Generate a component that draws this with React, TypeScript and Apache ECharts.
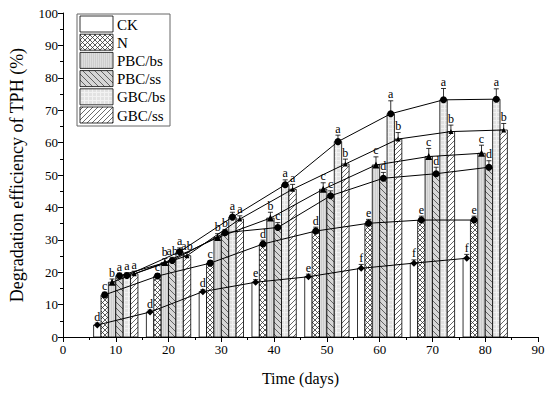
import React, { useEffect, useRef } from 'react';
import * as echarts from 'echarts';

const days = [10, 20, 30, 40, 50, 60, 70, 80];
const seriesNames = ['CK', 'N', 'PBC/bs', 'PBC/ss', 'GBC/bs', 'GBC/ss'];

const ckValues = [3.7, 7.7, 14.0, 16.9, 18.6, 21.2, 22.8, 24.3];
const nValues = [13.0, 18.8, 22.8, 28.7, 32.7, 35.1, 36.1, 36.1];
const pbcBsValues = [16.9, 23.0, 30.7, 36.7, 45.6, 53.1, 55.7, 56.7];
const pbcSsValues = [18.9, 23.6, 32.2, 33.8, 43.6, 49.0, 50.4, 52.4];
const gbcBsValues = [19.0, 26.3, 37.0, 47.0, 60.3, 68.9, 73.2, 73.4];
const gbcSsValues = [19.5, 25.1, 36.4, 45.6, 53.4, 61.1, 63.4, 63.9];

const ckErr = [0.6, 0.6, 0.6, 0.8, 0.8, 1.2, 1.0, 1.2];
const nErr = [0.8, 0.8, 0.8, 1.2, 1.2, 1.2, 1.2, 1.2];
const pbcBsErr = [1.0, 1.2, 1.2, 1.8, 2.0, 2.5, 2.5, 2.5];
const pbcSsErr = [0.8, 1.0, 1.0, 1.5, 1.5, 1.8, 2.0, 2.0];
const gbcBsErr = [0.8, 1.2, 1.5, 1.5, 2.0, 4.0, 3.5, 3.2];
const gbcSsErr = [0.8, 1.0, 1.0, 1.5, 1.5, 2.0, 2.0, 2.0];

const ckLetters = ['d', 'd', 'd', 'e', 'e', 'f', 'f', 'f'];
const nLetters = ['c', 'c', 'c', 'd', 'd', 'e', 'e', 'e'];
const pbcBsLetters = ['b', 'b', 'b', 'b', 'c', 'c', 'c', 'c'];
const pbcSsLetters = ['a', 'ab', 'b', 'c', 'c', 'd', 'd', 'd'];
const gbcBsLetters = ['a', 'a', 'a', 'a', 'a', 'a', 'a', 'a'];
const gbcSsLetters = ['a', 'ab', 'a', 'a', 'b', 'b', 'b', 'b'];

const allValues = [ckValues, nValues, pbcBsValues, pbcSsValues, gbcBsValues, gbcSsValues];
const allErr = [ckErr, nErr, pbcBsErr, pbcSsErr, gbcBsErr, gbcSsErr];
const allLetters = [ckLetters, nLetters, pbcBsLetters, pbcSsLetters, gbcBsLetters, gbcSsLetters];

const FONT = '"Liberation Serif", "Times New Roman", serif';
const BW = 1.4;
const xOf = (s: number, i: number) => days[i] + (s - 2.5) * BW;

function makeTile(size: number, bg: string, draw: (ctx: CanvasRenderingContext2D, s: number) => void) {
  const c = document.createElement('canvas');
  c.width = size;
  c.height = size;
  const ctx = c.getContext('2d')!;
  ctx.fillStyle = bg;
  ctx.fillRect(0, 0, size, size);
  draw(ctx, size);
  return { image: c.toDataURL(), repeat: 'repeat', imageWidth: size, imageHeight: size };
}

function buildPatterns() {
  const white = '#ffffff';
  const ck = makeTile(4, white, () => {});
  const n = makeTile(5, white, (ctx, s) => {
    ctx.strokeStyle = '#333';
    ctx.lineWidth = 0.8;
    for (let k = -1; k <= 1; k++) {
      ctx.beginPath();
      ctx.moveTo(k * s, 0);
      ctx.lineTo(k * s + s, s);
      ctx.stroke();
      ctx.beginPath();
      ctx.moveTo(k * s, s);
      ctx.lineTo(k * s + s, 0);
      ctx.stroke();
    }
  });
  const pbcBs = makeTile(4, '#cdcdcd', (ctx) => {
    ctx.fillStyle = '#dedede';
    ctx.fillRect(0, 0, 1, 4);
    ctx.fillRect(2, 0, 1, 4);
  });
  const pbcSs = makeTile(6, '#d6d6d6', (ctx, s) => {
    ctx.strokeStyle = '#444';
    ctx.lineWidth = 0.8;
    for (let k = -1; k <= 1; k++) {
      ctx.beginPath();
      ctx.moveTo(k * s, 0);
      ctx.lineTo(k * s + s, s);
      ctx.stroke();
    }
  });
  const gbcBs = makeTile(4, '#e2e2e2', (ctx) => {
    ctx.fillStyle = '#f2f2f2';
    ctx.fillRect(0, 0, 1, 4);
    ctx.fillRect(0, 0, 4, 1);
  });
  const gbcSs = makeTile(5, white, (ctx, s) => {
    ctx.strokeStyle = '#444';
    ctx.lineWidth = 0.8;
    for (let k = -1; k <= 1; k++) {
      ctx.beginPath();
      ctx.moveTo(k * s, s);
      ctx.lineTo(k * s + s, 0);
      ctx.stroke();
    }
  });
  return [ck, n, pbcBs, pbcSs, gbcBs, gbcSs];
}

const markerSymbols = ['diamond', 'circle', 'triangle', 'circle', 'circle', 'triangle'];
const markerSizes = [7, 7, 7, 7, 7, 5];

export default function App() {
  const ref = useRef<HTMLDivElement>(null);
  useEffect(() => {
    if (!ref.current) return;
    document.body.style.margin = '0';
    const patterns = buildPatterns();
    const chart = echarts.init(ref.current, null, { renderer: 'svg' });

    const barSeries = seriesNames.map((name, s) => ({
      type: 'custom',
      name,
      z: 2,
      encode: { x: 0, y: 1 },
      data: days.map((d, i) => [xOf(s, i), allValues[s][i], allErr[s][i]]),
      renderItem: (params: any, api: any) => {
        const i = params.dataIndex;
        const xc = api.value(0);
        const v = api.value(1);
        const e = api.value(2);
        const tl = api.coord([xc - BW / 2, v]);
        const br = api.coord([xc + BW / 2, 0]);
        const top = api.coord([xc, v + e]);
        const mid = api.coord([xc, v]);
        return {
          type: 'group',
          children: [
            {
              type: 'rect',
              shape: { x: tl[0], y: tl[1], width: br[0] - tl[0], height: br[1] - tl[1] },
              style: { fill: patterns[s], stroke: '#000', lineWidth: 0.8 },
            },
            {
              type: 'line',
              shape: { x1: mid[0], y1: mid[1], x2: top[0], y2: top[1] },
              style: { stroke: '#000', lineWidth: 0.8 },
            },
            {
              type: 'line',
              shape: { x1: top[0] - 2.5, y1: top[1], x2: top[0] + 2.5, y2: top[1] },
              style: { stroke: '#000', lineWidth: 0.8 },
            },
            {
              type: 'text',
              x: top[0],
              y: top[1] - 0.5,
              z2: 10,
              style: {
                text: allLetters[s][i],
                fill: '#000',
                font: '12px ' + FONT,
                align: 'center',
                verticalAlign: 'bottom',
              },
            },
          ],
        };
      },
    }));

    const lineSeries = seriesNames.map((name, s) => ({
      type: 'line',
      name: name + ' line',
      z: 5,
      data: days.map((d, i) => [xOf(s, i), allValues[s][i]]),
      symbol: markerSymbols[s],
      symbolSize: markerSizes[s],
      lineStyle: { color: '#000', width: 1 },
      itemStyle: { color: '#000', borderColor: '#000', borderWidth: 0 },
      emphasis: { disabled: true },
    }));

    const legendTop = 16;
    const legendStep = 18.2;
    const legendChildren: any[] = [
      {
        type: 'rect',
        shape: { x: 77, y: 14, width: 93, height: 112 },
        style: { fill: '#fff', stroke: '#666', lineWidth: 1 },
      },
    ];
    seriesNames.forEach((name, s) => {
      const y = legendTop + s * legendStep;
      legendChildren.push({
        type: 'rect',
        shape: { x: 80, y, width: 33, height: 16 },
        style: { fill: patterns[s], stroke: '#000', lineWidth: 0.8 },
      });
      legendChildren.push({
        type: 'text',
        x: 117,
        y: y + 8.5,
        style: {
          text: name,
          fill: '#000',
          font: '15px ' + FONT,
          verticalAlign: 'middle',
        },
      });
    });

    const axisCommon = {
      axisLine: { show: true, lineStyle: { color: '#000', width: 1 } },
      axisTick: { show: true, inside: false, length: 5, lineStyle: { color: '#000' } },
      minorTick: { show: true, splitNumber: 2, length: 3, lineStyle: { color: '#000' } },
      splitLine: { show: false },
      minorSplitLine: { show: false },
      axisLabel: { color: '#000', fontFamily: FONT, fontSize: 13 },
      nameTextStyle: { color: '#000', fontFamily: FONT, fontSize: 16 },
    };

    chart.setOption({
      animation: false,
      backgroundColor: '#fff',
      grid: { left: 61, right: 12, top: 13, bottom: 56, containLabel: false },
      xAxis: {
        type: 'value',
        min: 0,
        max: 90,
        interval: 10,
        name: 'Time (days)',
        nameLocation: 'middle',
        nameGap: 33,
        ...axisCommon,
        axisLabel: { ...axisCommon.axisLabel, margin: 6 },
      },
      yAxis: {
        type: 'value',
        min: 0,
        max: 100,
        interval: 10,
        name: 'Degradation efficiency of TPH (%)',
        nameLocation: 'middle',
        nameGap: 37,
        ...axisCommon,
        axisLabel: { ...axisCommon.axisLabel, margin: 5 },
        nameTextStyle: { color: '#000', fontFamily: FONT, fontSize: 18 },
      },
      series: [...barSeries, ...lineSeries],
      graphic: [{ type: 'group', children: legendChildren }],
    } as any);
    return () => chart.dispose();
  }, []);
  return (
    <div
      ref={ref}
      style={{ position: 'fixed', left: 0, top: 0, width: 550, height: 393, background: '#fff' }}
    />
  );
}
